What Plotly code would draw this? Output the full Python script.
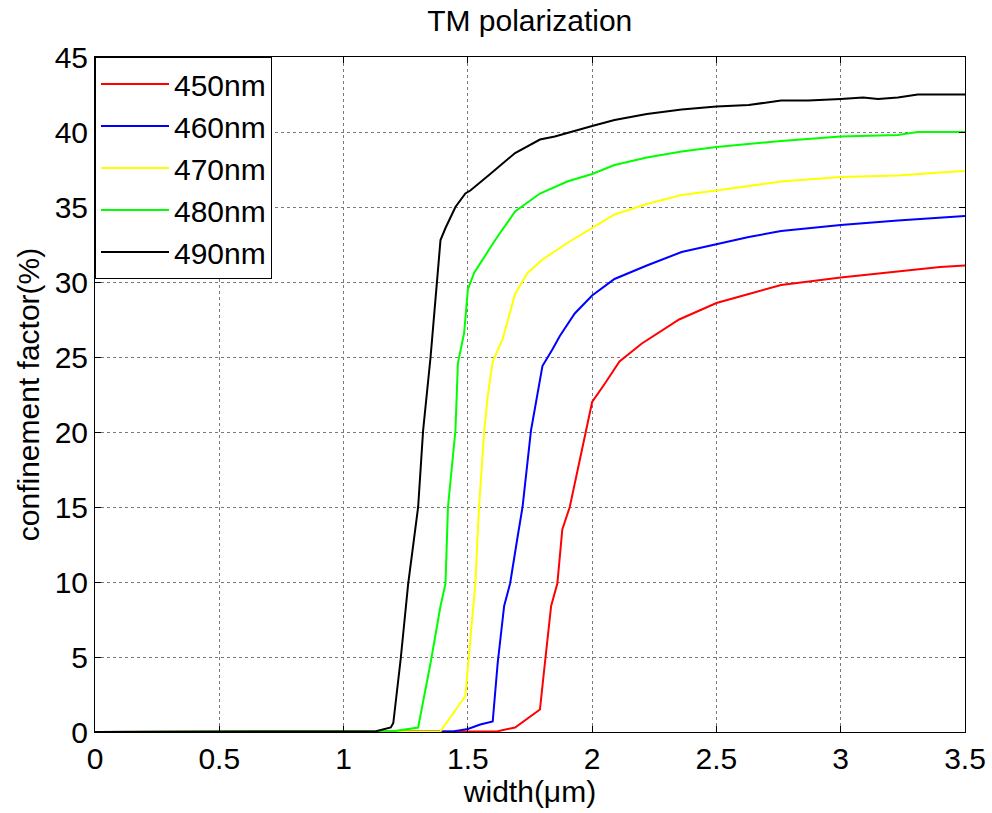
import plotly.graph_objects as go

# Confinement factor (%) versus waveguide width (um), TM polarization
labels = ["450nm", "460nm", "470nm", "480nm", "490nm"]
colors = ["#FF0000", "#0000FF", "#FFFF00", "#00FF00", "#000000"]

width_450 = [0, 1.0, 1.5, 1.62, 1.69, 1.79, 1.81, 1.835, 1.86, 1.88, 1.91, 1.93, 1.955, 1.98,
             2.0, 2.05, 2.11, 2.17, 2.2, 2.35, 2.5, 2.63, 2.76, 3.0, 3.23, 3.4, 3.5]
conf_450 = [0, 0, 0.02, 0.05, 0.3, 1.5, 4.6, 8.4, 9.9, 13.5, 15.0, 16.6, 18.4, 20.6,
            22.0, 23.2, 24.7, 25.5, 25.9, 27.5, 28.6, 29.2, 29.8, 30.3, 30.7, 31.0, 31.1]

width_460 = [0, 1.0, 1.445, 1.50, 1.55, 1.60, 1.62, 1.646, 1.67, 1.70, 1.72, 1.754, 1.78, 1.80,
             1.84, 1.87, 1.93, 2.0, 2.09, 2.22, 2.36, 2.5, 2.63, 2.76, 3.0, 3.23, 3.4, 3.5]
conf_460 = [0, 0, 0.05, 0.2, 0.5, 0.7, 4.6, 8.4, 9.9, 13.0, 15.0, 20.1, 22.4, 24.4,
            25.5, 26.4, 27.9, 29.1, 30.2, 31.1, 32.0, 32.5, 33.0, 33.4, 33.8, 34.1, 34.3, 34.4]

width_470 = [0, 1.0, 1.39, 1.49, 1.52, 1.53, 1.545, 1.566, 1.58, 1.60, 1.64, 1.69, 1.74, 1.80,
             1.90, 2.0, 2.09, 2.22, 2.36, 2.5, 2.63, 2.76, 3.0, 3.23, 3.4, 3.5]
conf_470 = [0, 0, 0.05, 2.4, 8.4, 9.9, 15.0, 20.1, 22.4, 24.7, 26.2, 29.2, 30.6, 31.5,
            32.6, 33.6, 34.5, 35.2, 35.8, 36.1, 36.4, 36.7, 37.0, 37.1, 37.3, 37.4]

width_480 = [0, 1.0, 1.2, 1.30, 1.35, 1.39, 1.41, 1.42, 1.45, 1.46, 1.485, 1.50, 1.525, 1.61,
             1.69, 1.79, 1.90, 2.0, 2.09, 2.22, 2.36, 2.5, 2.63, 2.76, 3.0, 3.23, 3.31, 3.5]
conf_480 = [0, 0, 0.05, 0.3, 4.6, 8.4, 9.9, 15.0, 20.1, 24.6, 26.6, 29.5, 30.6, 32.8,
            34.7, 35.9, 36.7, 37.2, 37.8, 38.3, 38.7, 39.0, 39.2, 39.4, 39.7, 39.8, 40.0, 40.0]

width_490 = [0, 1.0, 1.13, 1.19, 1.20, 1.23, 1.26, 1.30, 1.32, 1.35, 1.37, 1.39, 1.41, 1.45,
             1.49, 1.51, 1.59, 1.69, 1.79, 1.85, 2.0, 2.09, 2.22, 2.36, 2.5, 2.63, 2.76, 2.87,
             3.0, 3.09, 3.15, 3.23, 3.31, 3.5]
conf_490 = [0, 0, 0.05, 0.3, 0.6, 4.9, 9.9, 15.0, 20.1, 25.0, 29.0, 32.8, 33.6, 35.0,
            35.9, 36.1, 37.2, 38.6, 39.5, 39.7, 40.4, 40.8, 41.2, 41.5, 41.7, 41.8, 42.1, 42.1,
            42.2, 42.3, 42.2, 42.3, 42.5, 42.5]

widths = [width_450, width_460, width_470, width_480, width_490]
confs = [conf_450, conf_460, conf_470, conf_480, conf_490]

FONT = "Liberation Sans, Arial, sans-serif"
FS = 30

fig = go.Figure()
for lab, col, xs, ys in zip(labels, colors, widths, confs):
    fig.add_trace(go.Scatter(
        x=xs, y=ys, mode="lines", name=lab, legendgroup=lab,
        line=dict(color=col, width=2),
    ))

axis_common = dict(
    showline=True, linecolor="black", linewidth=1, mirror="ticks",
    ticks="inside", ticklen=6, tickcolor="black", automargin=False,
    showgrid=True, gridcolor="#7a7a7a", griddash="dot", gridwidth=1,
    zeroline=False, tickfont=dict(family=FONT, size=FS, color="black"),
)

fig.update_layout(
    width=992, height=813,
    margin=dict(l=95, r=27, t=57, b=81),
    paper_bgcolor="white", plot_bgcolor="white",
    font=dict(family=FONT, color="black"),
    title=dict(text="TM polarization", x=0.534, xanchor="center", y=0.975, yanchor="middle",
               font=dict(family=FONT, size=FS, color="black")),
    xaxis=dict(range=[0, 3.5], dtick=0.5, tick0=0,
               title=dict(text="width(\u03bcm)", standoff=0,
                          font=dict(family=FONT, size=FS, color="black")),
               **axis_common),
    yaxis=dict(range=[0, 45], dtick=5, tick0=0,
               title=dict(text="confinement factor(%)", standoff=6,
                          font=dict(family=FONT, size=FS, color="black")),
               **axis_common),
    legend=dict(x=0, y=1, xanchor="left", yanchor="top",
                bgcolor="white", bordercolor="black", borderwidth=1,
                font=dict(family=FONT, size=FS, color="black"),
                tracegroupgap=0, itemwidth=68),
    showlegend=True,
)

fig.write_html("out.html")
